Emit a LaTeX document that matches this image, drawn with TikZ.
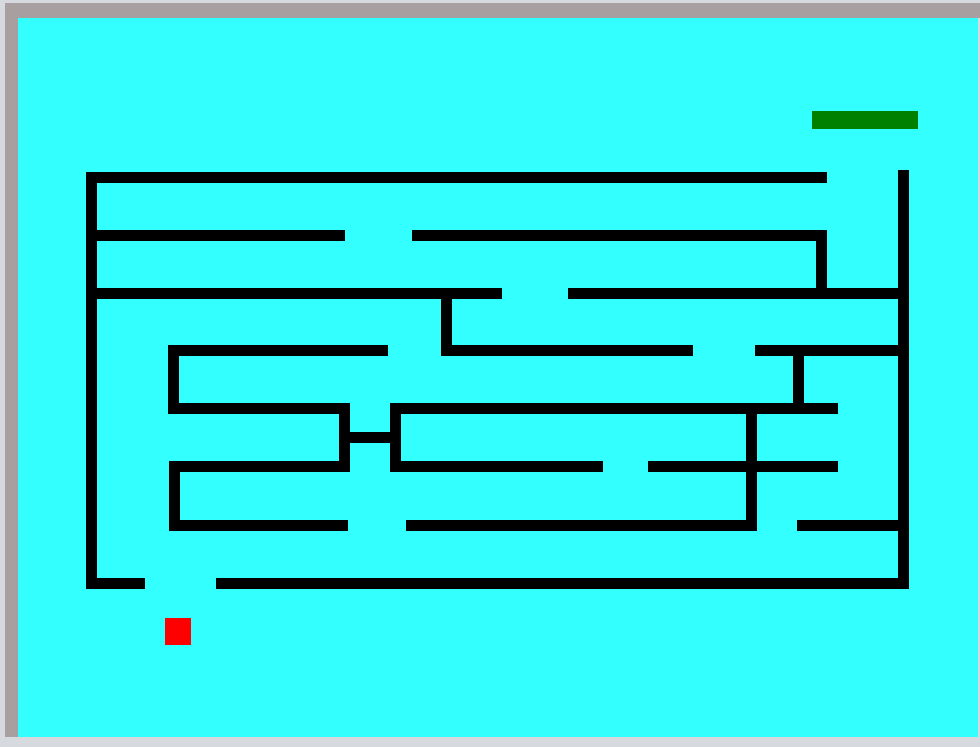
\documentclass[tikz,border=0pt]{standalone}
\definecolor{mazebg}{RGB}{51,255,255}
\definecolor{frameA}{RGB}{214,217,221}
\definecolor{frameB}{RGB}{168,160,160}
\definecolor{goalgreen}{RGB}{0,128,0}
\begin{document}
\begin{tikzpicture}[x=1pt,y=-1pt,
  wall/.style={draw=black,line width=11pt,line cap=butt,line join=miter}]
\useasboundingbox (0,0) rectangle (980,747);
\fill[frameA] (0,0) rectangle (980,747);
\fill[frameB] (5,3) rectangle (980,18);
\fill[frameB] (5,3) rectangle (18,737);
\fill[mazebg] (18,18) rectangle (978,737);
% goal and player
\fill[goalgreen] (812,111) rectangle (918,129);
\fill[red] (165,618) rectangle (191,645);
% outer walls
\draw[wall] (827,177) -- (91,177) -- (91,583) -- (145,583);
\draw[wall] (903,170) -- (903,583) -- (216,583);
% row y=235
\draw[wall] (91,235) -- (345,235);
\draw[wall] (412,235) -- (821,235) -- (821,293);
% row y=293
\draw[wall] (91,293) -- (502,293);
\draw[wall] (446,293) -- (446,350) -- (693,350);
\draw[wall] (568,293) -- (903,293);
% row y=350
\draw[wall] (388,350) -- (173,350) -- (173,408) -- (344,408) -- (344,466) -- (174,466) -- (174,525) -- (348,525);
\draw[wall] (344,437) -- (395,437);
\draw[wall] (838,408) -- (395,408) -- (395,466) -- (603,466);
\draw[wall] (755,350) -- (903,350);
\draw[wall] (798,350) -- (798,408);
% row y=466
\draw[wall] (648,466) -- (838,466);
\draw[wall] (751,408) -- (751,525) -- (406,525);
% row y=525
\draw[wall] (797,525) -- (903,525);
\end{tikzpicture}
\end{document}
